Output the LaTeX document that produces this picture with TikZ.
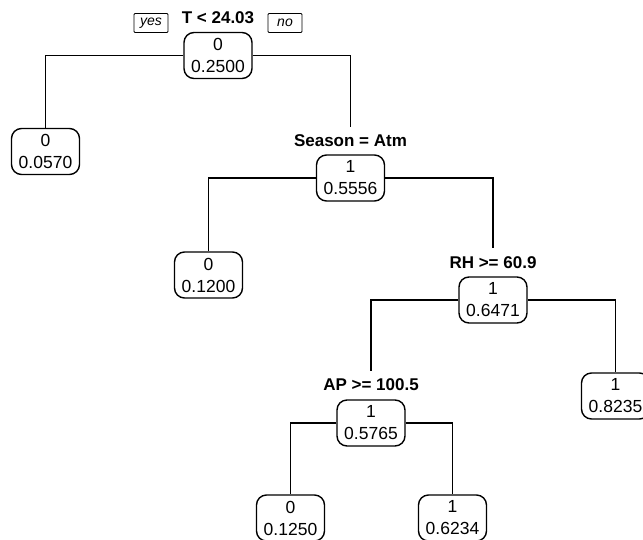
\documentclass[tikz,border=0pt]{standalone}
\usepackage{fontspec}
\setmainfont{Liberation Sans}
\begin{document}
\begin{tikzpicture}[x=1pt,y=-1pt,
  tnode/.style={draw,line width=1.4pt,rounded corners=10pt,minimum width=68pt,minimum height=46pt,
    inner sep=0pt,align=center,font=\fontsize{17.5}{22}\selectfont},
  split/.style={font=\bfseries\fontsize{17}{20}\selectfont,inner sep=0pt},
  yn/.style={draw,line width=0.9pt,rounded corners=1pt,minimum width=34pt,minimum height=19pt,inner sep=0pt,
    font=\itshape\fontsize{14}{15}\selectfont},
  conn/.style={line width=1.5pt}]
\useasboundingbox (0,0) rectangle (643,539);
\clip (0,0) rectangle (643,539);
% nodes
\node[tnode] (root) at (218,55.5) {0\\0.2500};
\node[split] (rootlab) at (218,18) {T < 24.03};
\node[yn] (yes) at (151,23) {yes};
\node[yn] (no) at (285,23) {no};
\node[tnode] (l1) at (45.5,151.5) {0\\0.0570};
\node[split] (slab) at (350.5,141) {Season = Atm};
\node[tnode] (season) at (350.5,178) {1\\0.5556};
\node[tnode] (l2) at (208.5,275) {0\\0.1200};
\node[split] (rhlab) at (493,263) {RH >= 60.9};
\node[tnode] (rh) at (493,300) {1\\0.6471};
\node[tnode] (l5) at (615.5,396) {1\\0.8235};
\node[split] (aplab) at (371,385) {AP >= 100.5};
\node[tnode] (ap) at (371,423) {1\\0.5765};
\node[tnode] (l3) at (290.5,518) {0\\0.1250};
\node[tnode] (l4) at (452.5,518) {1\\0.6234};
% free ends above split labels
\coordinate (sTop) at (350.5,127);
\coordinate (rhTop) at (493,248);
\coordinate (apTop) at (371,371);
% connectors
\draw[conn] (root.west) -| (l1.north);
\draw[conn] (root.east) -| (sTop);
\draw[conn] (season.west) -| (l2.north);
\draw[conn] (season.east) -| (rhTop);
\draw[conn] (rh.west) -| (apTop);
\draw[conn] (rh.east) -| (l5.north);
\draw[conn] (ap.west) -| (l3.north);
\draw[conn] (ap.east) -| (l4.north);
\end{tikzpicture}
\end{document}
